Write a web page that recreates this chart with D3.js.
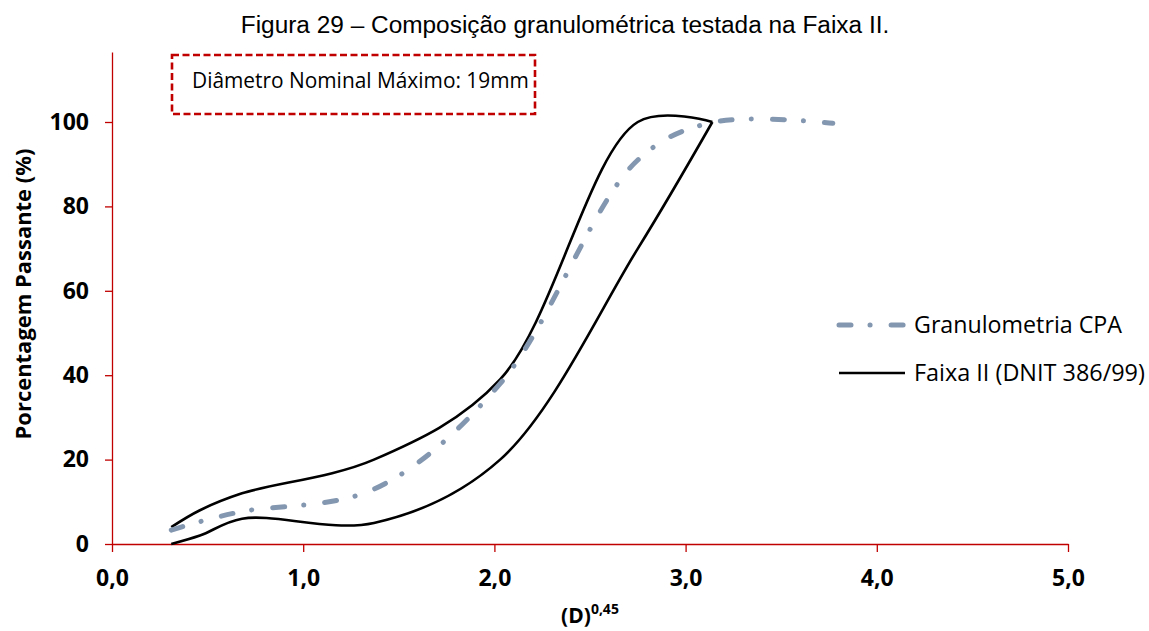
<!DOCTYPE html>
<html>
<head>
<meta charset="utf-8">
<script src="https://cdn.jsdelivr.net/npm/d3@7"></script>
<style>
  body { margin: 0; background: #fff; }
  svg { display: block; }
</style>
</head>
<body>
<div id="chart"></div>
<script>
// --------------- Data ---------------
// abscissa = (abertura da peneira)^0,45 -> peneiras 0,075 / 0,18 / 0,42 / 2,0 / 4,8 / 9,5 / 12,7 / 19,1 mm
const xValues = [0.31, 0.46, 0.68, 1.37, 2.03, 2.75, 3.14, 3.77];
const cpaValues = [3.3, 5.3, 7.7, 13, 38, 91, 99.9, 99.7];
const faixaUpper = [4, 8, 12, 20, 39, 100, 100];
const faixaLower = [0, 2, 6, 5, 20, 70, 100];

const xTicks = [0, 1, 2, 3, 4, 5];
const yTicks = [0, 20, 40, 60, 80, 100];
const seriesNames = ["Granulometria CPA", "Faixa II (DNIT 386/99)"];

const titleText = "Figura 29 – Composição granulométrica testada na Faixa II.";
const noteText = "Diâmetro Nominal Máximo: 19mm";
const yTitleText = "Porcentagem Passante (%)";

// --------------- Constants ---------------
const WIDTH = 1149;
const HEIGHT = 631;
const PLOT = { left: 112, right: 1068, top: 52, bottom: 544 };
const AXIS_RED = "#c00000";
const CPA_COLOR = "#8497b0";
const FONT = "'Open Sans', 'Noto Sans', sans-serif";
const CPA_DASH = "12,19,0.1,21";

// shrink / grow a text so it takes a given width
function fitWidth(sel, w) {
  const cur = parseFloat(sel.attr("font-size"));
  const len = sel.node().getComputedTextLength();
  sel.attr("font-size", (cur * w) / len);
}

const svg = d3
  .select("#chart")
  .append("svg")
  .attr("width", WIDTH)
  .attr("height", HEIGHT);

// --------------- Scales ---------------
const x = d3.scaleLinear().domain([0, 5]).range([PLOT.left, PLOT.right]);
const y = d3.scaleLinear().domain([0, 100]).range([PLOT.bottom, 122]);
y.domain([0, y.invert(PLOT.top)]).range([PLOT.bottom, PLOT.top]);

// --------------- Axes ---------------
const fmt = (d) => d3.format(".1f")(d).replace(".", ",");

const gx = svg
  .append("g")
  .attr("transform", `translate(0,${PLOT.bottom})`)
  .call(
    d3.axisBottom(x).tickValues(xTicks).tickFormat(fmt)
      .tickSize(8).tickSizeOuter(0).tickPadding(18)
  );

const gy = svg
  .append("g")
  .attr("transform", `translate(${PLOT.left},0)`)
  .call(
    d3.axisLeft(y).tickValues(yTicks).tickFormat(d3.format("d"))
      .tickSize(7).tickSizeOuter(0).tickPadding(16)
  );

[gx, gy].forEach((g) => {
  g.select(".domain").attr("stroke", AXIS_RED).attr("stroke-width", 1.3);
  g.selectAll(".tick line").attr("stroke", AXIS_RED).attr("stroke-width", 1.3);
  g.selectAll(".tick text")
    .attr("fill", "#000")
    .attr("font-family", FONT)
    .attr("font-weight", "bold")
    .attr("font-size", 23);
});

// --------------- Series ---------------
const line = d3
  .line()
  .x((_d, i) => x(xValues[i]))
  .y((d) => y(d))
  .curve(d3.curveCatmullRom);

svg.append("g")
  .selectAll("path")
  .data([faixaUpper, faixaLower])
  .enter()
  .append("path")
  .attr("d", line)
  .attr("fill", "none")
  .attr("stroke", "#000")
  .attr("stroke-width", 2.6);

svg.append("path")
  .attr("d", line(cpaValues))
  .attr("fill", "none")
  .attr("stroke", CPA_COLOR)
  .attr("stroke-width", 5)
  .attr("stroke-linecap", "round")
  .attr("stroke-dasharray", CPA_DASH);

// --------------- Legend ---------------
const legend = svg.append("g").attr("transform", "translate(837,325)");
const legendItems = [
  { name: seriesNames[0], stroke: CPA_COLOR, width: 5, dash: CPA_DASH, textW: 208 },
  { name: seriesNames[1], stroke: "#000", width: 2.6, dash: null, textW: 231 },
];
legendItems.forEach((it, i) => {
  const row = legend.append("g").attr("transform", `translate(0,${i * 48})`);
  row.append("line")
    .attr("x1", 2).attr("x2", 68)
    .attr("stroke", it.stroke)
    .attr("stroke-width", it.width)
    .attr("stroke-linecap", it.dash ? "round" : "butt")
    .attr("stroke-dasharray", it.dash);
  const t = row.append("text")
    .attr("x", 77).attr("y", 8)
    .attr("font-family", FONT)
    .attr("font-size", 22)
    .text(it.name);
  fitWidth(t, it.textW);
});

// --------------- Note box ---------------
svg.append("rect")
  .attr("x", 172).attr("y", 55)
  .attr("width", 363).attr("height", 59)
  .attr("fill", "none")
  .attr("stroke", AXIS_RED)
  .attr("stroke-width", 2.6)
  .attr("stroke-dasharray", "7,3.5");

const note = svg.append("text")
  .attr("x", 192).attr("y", 88)
  .attr("font-family", FONT)
  .attr("font-size", 20)
  .text(noteText);
fitWidth(note, 337);

// --------------- Titles ---------------
const title = svg.append("text")
  .attr("x", 565).attr("y", 33)
  .attr("text-anchor", "middle")
  .attr("font-family", "'Liberation Sans', Arial, sans-serif")
  .attr("font-size", 20)
  .text(titleText);
fitWidth(title, 649);

const yTitle = svg.append("text")
  .attr("transform", "translate(31,294) rotate(-90)")
  .attr("text-anchor", "middle")
  .attr("font-family", FONT)
  .attr("font-weight", "bold")
  .attr("font-size", 20)
  .text(yTitleText);
fitWidth(yTitle, 291);

const xTitle = svg.append("text")
  .attr("x", 590).attr("y", 623)
  .attr("text-anchor", "middle")
  .attr("font-family", FONT)
  .attr("font-weight", "bold")
  .attr("font-size", 21);
xTitle.append("tspan").text("(D)");
xTitle.append("tspan")
  .attr("font-size", 14)
  .attr("dy", -9)
  .text("0,45");
</script>
</body>
</html>
